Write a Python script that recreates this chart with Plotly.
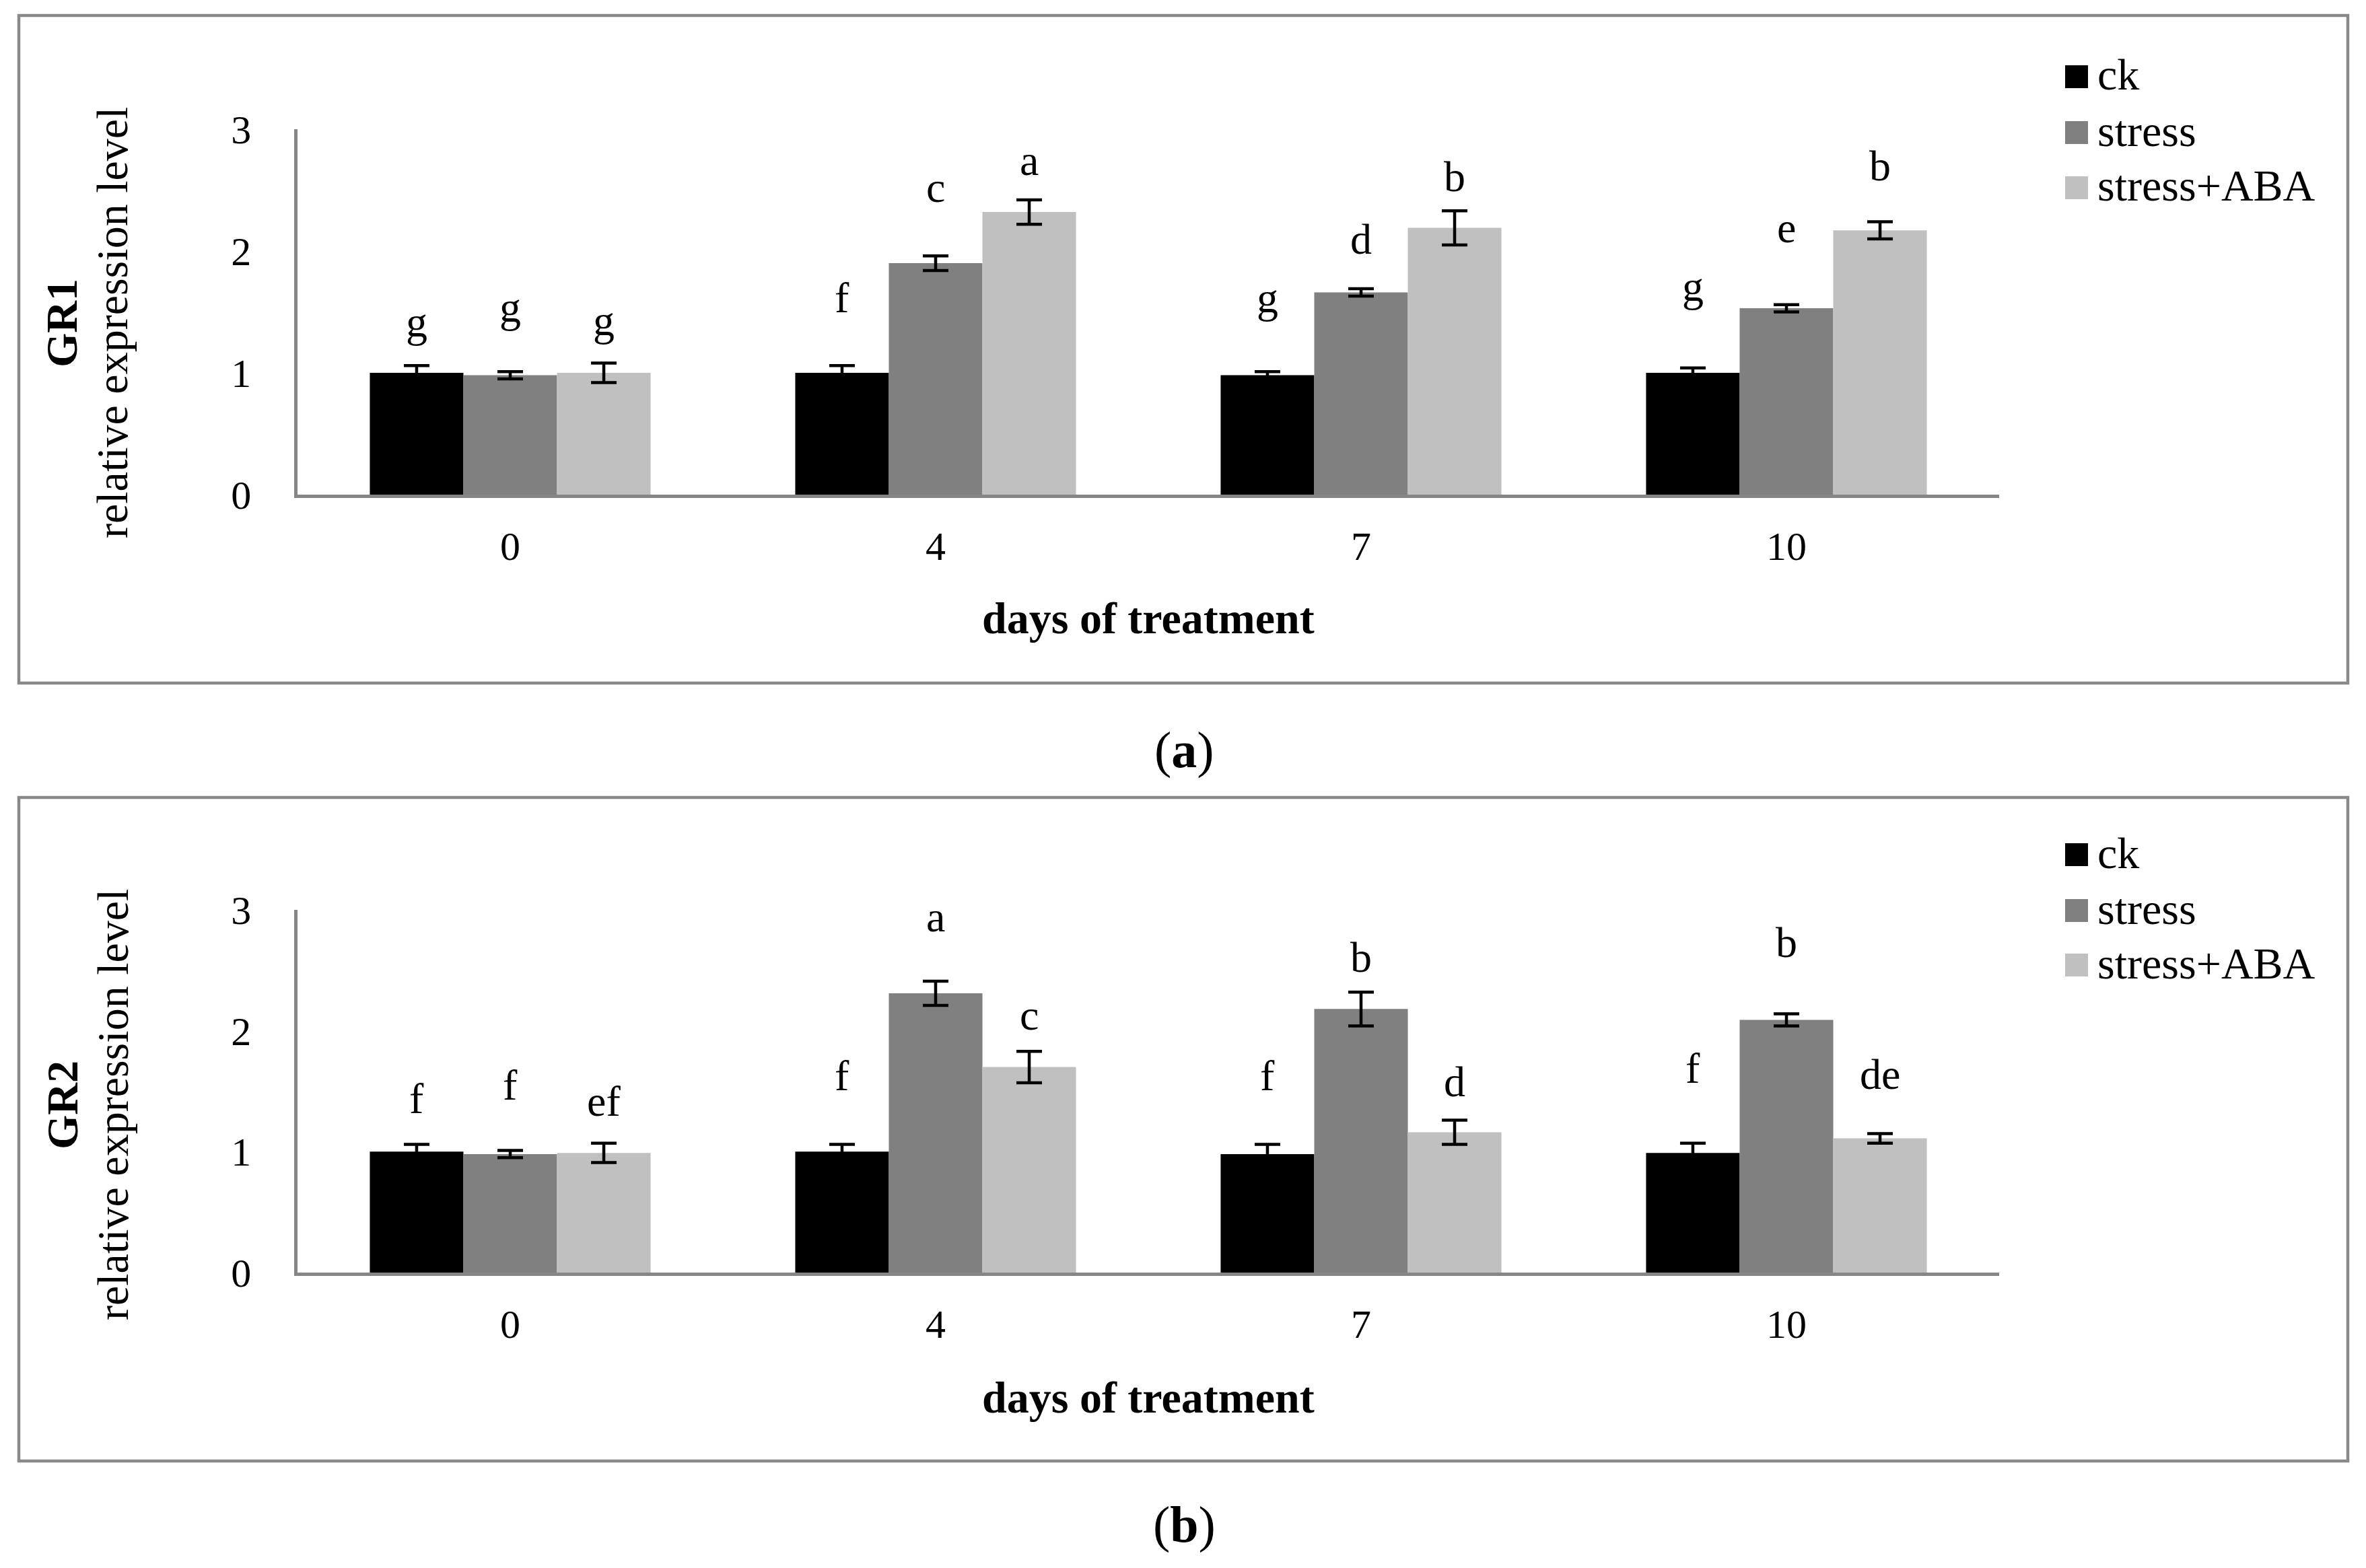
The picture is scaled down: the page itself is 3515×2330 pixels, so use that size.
import plotly.graph_objects as go

# ---------------- data ----------------
days = ["0", "4", "7", "10"]
series_names = ["ck", "stress", "stress+ABA"]

gr1_ck = [1.00, 1.00, 0.98, 1.00]
gr1_ck_err = [0.06, 0.06, 0.03, 0.04]
gr1_stress = [0.98, 1.90, 1.66, 1.53]
gr1_stress_err = [0.03, 0.06, 0.03, 0.03]
gr1_aba = [1.00, 2.32, 2.19, 2.17]
gr1_aba_err = [0.08, 0.10, 0.14, 0.07]
gr1_letters_ck = ["g", "f", "g", "g"]
gr1_letters_stress = ["g", "c", "d", "e"]
gr1_letters_aba = ["g", "a", "b", "b"]

gr2_ck = [1.00, 1.00, 0.98, 0.99]
gr2_ck_err = [0.06, 0.06, 0.08, 0.08]
gr2_stress = [0.98, 2.31, 2.18, 2.09]
gr2_stress_err = [0.03, 0.10, 0.14, 0.05]
gr2_aba = [0.99, 1.70, 1.16, 1.11]
gr2_aba_err = [0.08, 0.13, 0.10, 0.04]
gr2_letters_ck = ["f", "f", "f", "f"]
gr2_letters_stress = ["f", "a", "b", "b"]
gr2_letters_aba = ["ef", "c", "d", "de"]

y_ticks = [0, 1, 2, 3]

# ---------------- style / layout ----------------
W, H = 3515, 2330
colors = ["#000000", "#808080", "#c0c0c0"]
FONT = "Liberation Serif, Times New Roman, serif"
AXIS_COLOR = "#868686"
FRAME_COLOR = "#898989"
BARGAP = 0.34

# manual label placement (gap between error-bar top and letter centre, in axis units)
raise_a = [[0.27, 0.52, 0.52, 0.58], [0.44, 0.50, 0.37, 0.57], [0.26, 0.26, 0.24, 0.42]]
raise_b = [[0.34, 0.53, 0.53, 0.58], [0.50, 0.47, 0.25, 0.55], [0.31, 0.24, 0.28, 0.45]]


def glyph_shift(t):
    # compensate for the difference between text-box centre and visible glyph centre
    if "g" in t:
        return 16
    if all(c in "aceimnorsuvwxz" for c in t):
        return 11
    return 7


def px(xp):
    return xp / W


def py(yp):
    return 1 - yp / H


panels = [
    dict(gene="GR1", tag="a", vals=[gr1_ck, gr1_stress, gr1_aba],
         errs=[gr1_ck_err, gr1_stress_err, gr1_aba_err],
         letters=[gr1_letters_ck, gr1_letters_stress, gr1_letters_aba],
         raise_=raise_a, frame=(23, 1015), plot=(192, 735), ytitle=480,
         xtitle=919, legend=(114, 197, 279), label=1114),
    dict(gene="GR2", tag="b", vals=[gr2_ck, gr2_stress, gr2_aba],
         errs=[gr2_ck_err, gr2_stress_err, gr2_aba_err],
         letters=[gr2_letters_ck, gr2_letters_stress, gr2_letters_aba],
         raise_=raise_b, frame=(1185, 2171), plot=(1352, 1891), ytitle=1642,
         xtitle=2076, legend=(1270, 1353, 1434), label=2265),
]

fig = go.Figure()
annotations = []
shapes = []
PLOT_X0, PLOT_X1 = 442, 2970

for k, p in enumerate(panels):
    xa = "x" if k == 0 else "x2"
    ya = "y" if k == 0 else "y2"
    for i, name in enumerate(series_names):
        fig.add_trace(go.Bar(
            x=days, y=p["vals"][i], name=name, marker_color=colors[i],
            marker_line_width=0, showlegend=False,
            error_y=dict(type="data", array=p["errs"][i], visible=True,
                         color="#000000", thickness=4.5, width=19),
            xaxis=xa, yaxis=ya,
        ))
        # letters above bars
        bw = (1 - BARGAP) / 3
        for j, d in enumerate(days):
            yc = p["vals"][i][j] + p["errs"][i][j] + p["raise_"][i][j]
            txt = p["letters"][i][j]
            annotations.append(dict(
                x=j + (i - 1) * bw, y=yc, xref=xa, yref=ya,
                text=txt, showarrow=False, yshift=glyph_shift(txt),
                xanchor="center", yanchor="middle",
                font=dict(family=FONT, size=64, color="#000000"),
            ))
        # legend entry
        ly = p["legend"][i]
        shapes.append(dict(type="rect", xref="paper", yref="paper",
                           x0=px(3068), x1=px(3102), y0=py(ly + 17), y1=py(ly - 17),
                           fillcolor=colors[i], line=dict(width=0)))
        annotations.append(dict(x=px(3114), y=py(ly - 3), xref="paper", yref="paper",
                                text=name, showarrow=False, xanchor="left",
                                yanchor="middle",
                                font=dict(family=FONT, size=66, color="#000000")))

    # frame
    f0, f1 = p["frame"]
    shapes.append(dict(type="rect", xref="paper", yref="paper",
                       x0=px(28), x1=px(3488), y0=py(f1), y1=py(f0),
                       line=dict(color=FRAME_COLOR, width=4.5), fillcolor="rgba(0,0,0,0)"))
    # y title (two lines)
    annotations.append(dict(x=px(92), y=py(p["ytitle"]), xref="paper", yref="paper",
                            text="<b>%s</b>" % p["gene"], textangle=-90, showarrow=False,
                            xanchor="center", yanchor="middle",
                            font=dict(family=FONT, size=66, color="#000000")))
    annotations.append(dict(x=px(167), y=py(p["ytitle"]), xref="paper", yref="paper",
                            text="relative expression level", textangle=-90, showarrow=False,
                            xanchor="center", yanchor="middle",
                            font=dict(family=FONT, size=66, color="#000000")))
    # x title
    annotations.append(dict(x=px((PLOT_X0 + PLOT_X1) / 2), y=py(p["xtitle"]),
                            xref="paper", yref="paper",
                            text="<b>days of treatment</b>", showarrow=False,
                            xanchor="center", yanchor="middle",
                            font=dict(family=FONT, size=66, color="#000000")))
    # panel label
    annotations.append(dict(x=px(1759), y=py(p["label"]), xref="paper", yref="paper",
                            text="(<b>%s</b>)" % p["tag"], showarrow=False,
                            xanchor="center", yanchor="middle",
                            font=dict(family=FONT, size=76, color="#000000")))

xaxis_common = dict(showline=True, linecolor=AXIS_COLOR, linewidth=4.5, ticks="",
                    showgrid=False, zeroline=False, type="category", automargin=False,
                    tickfont=dict(family=FONT, size=60, color="#000000"),
                    ticklabelstandoff=20, domain=[px(PLOT_X0), px(PLOT_X1)])
yaxis_common = dict(showline=True, linecolor=AXIS_COLOR, linewidth=4.5, ticks="",
                    showgrid=False, zeroline=False, range=[0, 3], tickvals=y_ticks,
                    automargin=False,
                    tickfont=dict(family=FONT, size=60, color="#000000"),
                    ticklabelstandoff=52)

fig.update_layout(
    width=W, height=H,
    margin=dict(l=0, r=0, t=0, b=0, pad=0, autoexpand=False),
    paper_bgcolor="#ffffff", plot_bgcolor="#ffffff",
    barmode="group", bargap=BARGAP, bargroupgap=0,
    xaxis=dict(**xaxis_common, anchor="y"),
    yaxis=dict(**yaxis_common, anchor="x",
               domain=[py(panels[0]["plot"][1]), py(panels[0]["plot"][0])]),
    xaxis2=dict(**xaxis_common, anchor="y2"),
    yaxis2=dict(**yaxis_common, anchor="x2",
                domain=[py(panels[1]["plot"][1]), py(panels[1]["plot"][0])]),
    annotations=annotations, shapes=shapes,
    font=dict(family=FONT, color="#000000"),
)

fig.write_html("out.html", post_script="document.body.style.margin='0';",
               config={"displayModeBar": False})
